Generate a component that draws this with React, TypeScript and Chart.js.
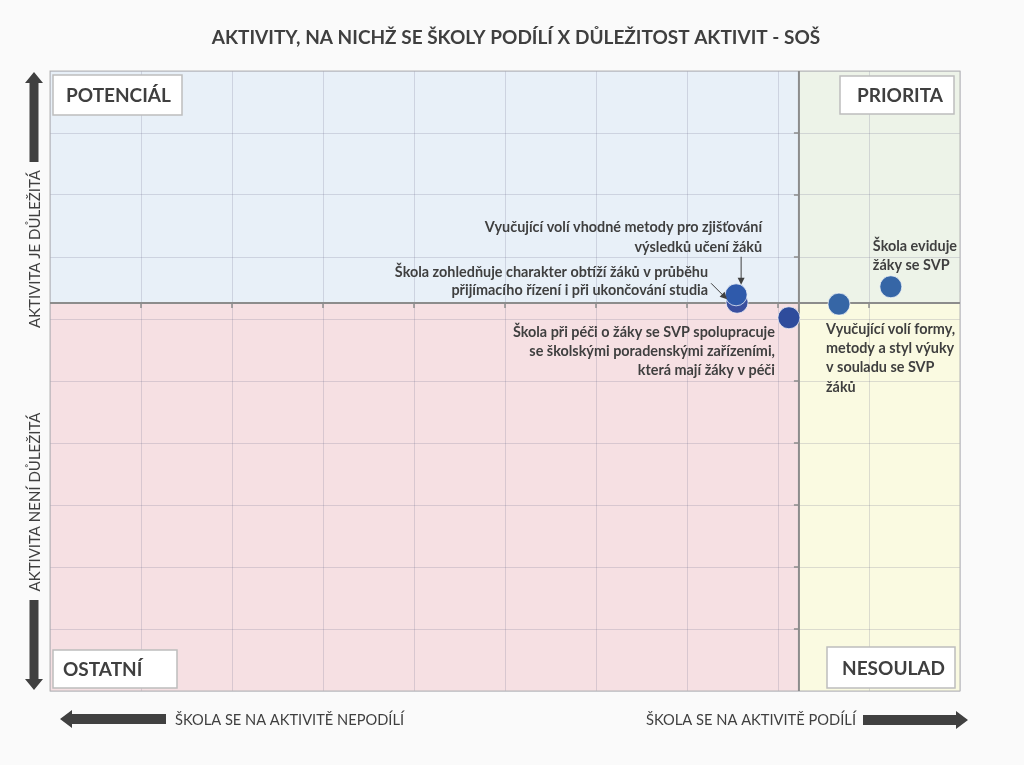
import React, { useEffect, useRef } from "react";
import { Chart, registerables } from "chart.js";

Chart.register(...registerables);

// ---- data ----
const activityLabels: string[][] = [
  ["Vyučující volí vhodné metody pro zjišťování", "výsledků učení žáků"],
  ["Škola zohledňuje charakter obtíží žáků v průběhu", "přijímacího řízení i při ukončování studia"],
  ["Škola při péči o žáky se SVP spolupracuje", "se školskými poradenskými zařízeními,", "která mají žáky v péči"],
  ["Vyučující volí formy,", "metody a styl výuky", "v souladu se SVP", "žáků"],
  ["Škola eviduje", "žáky se SVP"],
];
const schoolShare = [75.4, 75.5, 81.2, 86.7, 92.4];
const importance = [63.9, 62.7, 60.2, 62.4, 65.2];
const xCross = 82.3;
const yCross = 62.6;
const xMin = 0;
const xMax = 100;
const yMin = 0;
const yMax = 100;
const gridStep = 10;

const titleText = "AKTIVITY, NA NICHŽ SE ŠKOLY PODÍLÍ X DŮLEŽITOST AKTIVIT - SOŠ";
const quadrantLabels = ["POTENCIÁL", "PRIORITA", "OSTATNÍ", "NESOULAD"];
const xSideLabels = ["ŠKOLA SE NA AKTIVITĚ NEPODÍLÍ", "ŠKOLA SE NA AKTIVITĚ PODÍLÍ"];
const ySideLabels = ["AKTIVITA JE DŮLEŽITÁ", "AKTIVITA NENÍ DŮLEŽITÁ"];

// ---- styles ----
const pointColors = ["#2F5AAB", "#3A4F9F", "#2E4C9C", "#3666A6", "#3666A6"];
const FONT = "Lato, 'Open Sans', sans-serif";
const TEXT = "#3F3F3F";

function thickArrow(ctx: CanvasRenderingContext2D, tx: number, ty: number, fx: number, fy: number, shaft: number, head: number, headLen: number) {
  const ang = Math.atan2(ty - fy, tx - fx);
  const len = Math.hypot(tx - fx, ty - fy);
  ctx.save();
  ctx.translate(fx, fy);
  ctx.rotate(ang);
  ctx.beginPath();
  ctx.moveTo(0, -shaft / 2);
  ctx.lineTo(len - headLen, -shaft / 2);
  ctx.lineTo(len - headLen, -head / 2);
  ctx.lineTo(len, 0);
  ctx.lineTo(len - headLen, head / 2);
  ctx.lineTo(len - headLen, shaft / 2);
  ctx.lineTo(0, shaft / 2);
  ctx.closePath();
  ctx.fillStyle = "#404040";
  ctx.fill();
  ctx.restore();
}

function thinArrow(ctx: CanvasRenderingContext2D, fx: number, fy: number, tx: number, ty: number) {
  const ang = Math.atan2(ty - fy, tx - fx);
  ctx.save();
  ctx.strokeStyle = "#404040";
  ctx.fillStyle = "#404040";
  ctx.lineWidth = 1;
  ctx.beginPath();
  ctx.moveTo(fx, fy);
  ctx.lineTo(tx - 5 * Math.cos(ang), ty - 5 * Math.sin(ang));
  ctx.stroke();
  ctx.translate(tx, ty);
  ctx.rotate(ang);
  ctx.beginPath();
  ctx.moveTo(0, 0);
  ctx.lineTo(-7, -3.5);
  ctx.lineTo(-7, 3.5);
  ctx.closePath();
  ctx.fill();
  ctx.restore();
}

function labelBox(ctx: CanvasRenderingContext2D, x: number, y: number, w: number, h: number, text: string, align: "left" | "right", pad: number) {
  ctx.save();
  ctx.fillStyle = "#FFFFFF";
  ctx.fillRect(x, y, w, h);
  ctx.strokeStyle = "#BDBDBD";
  ctx.lineWidth = 1.5;
  ctx.strokeRect(x, y, w, h);
  ctx.fillStyle = TEXT;
  ctx.font = `bold 19px ${FONT}`;
  ctx.textBaseline = "middle";
  ctx.textAlign = align;
  ctx.fillText(text, align === "left" ? x + pad : x + w - pad, y + h / 2 + 1);
  ctx.restore();
}

const quadrantPlugin = {
  id: "quadrants",
  beforeDraw(chart: any) {
    const { ctx, chartArea: a, scales } = chart;
    const cx = scales.x.getPixelForValue(xCross);
    const cy = scales.y.getPixelForValue(yCross);
    ctx.save();
    ctx.fillStyle = "#FAFAFA";
    ctx.fillRect(0, 0, chart.width, chart.height);
    ctx.fillStyle = "#E8F0F8";
    ctx.fillRect(a.left, a.top, cx - a.left, cy - a.top);
    ctx.fillStyle = "#EDF3E8";
    ctx.fillRect(cx, a.top, a.right - cx, cy - a.top);
    ctx.fillStyle = "#F6E0E3";
    ctx.fillRect(a.left, cy, cx - a.left, a.bottom - cy);
    ctx.fillStyle = "#FAFAE1";
    ctx.fillRect(cx, cy, a.right - cx, a.bottom - cy);
    ctx.restore();
  },
  beforeDatasetsDraw(chart: any) {
    const { ctx, chartArea: a, scales } = chart;
    const cx = scales.x.getPixelForValue(xCross);
    const cy = scales.y.getPixelForValue(yCross);
    ctx.save();
    ctx.strokeStyle = "#B5B5B5";
    ctx.lineWidth = 1;
    ctx.strokeRect(a.left, a.top, a.right - a.left, a.bottom - a.top);
    ctx.strokeStyle = "#8C8C8C";
    ctx.lineWidth = 2;
    ctx.beginPath();
    ctx.moveTo(cx, a.top);
    ctx.lineTo(cx, a.bottom);
    ctx.moveTo(a.left, cy);
    ctx.lineTo(a.right, cy);
    ctx.stroke();
    ctx.lineWidth = 1.5;
    ctx.beginPath();
    for (let v = xMin + gridStep; v < xMax; v += gridStep) {
      const px = scales.x.getPixelForValue(v);
      ctx.moveTo(px, cy);
      ctx.lineTo(px, cy + 5);
    }
    for (let v = yMin + gridStep; v < yMax; v += gridStep) {
      const py = scales.y.getPixelForValue(v);
      ctx.moveTo(cx, py);
      ctx.lineTo(cx - 5, py);
    }
    ctx.stroke();
    ctx.restore();
  },
  afterDraw(chart: any) {
    const { ctx, chartArea: a, scales } = chart;
    ctx.save();
    // title
    ctx.fillStyle = TEXT;
    ctx.font = `bold 19px ${FONT}`;
    ctx.textAlign = "center";
    ctx.textBaseline = "middle";
    ctx.fillText(titleText, 516, 38, 614);

    // quadrant label boxes
    labelBox(ctx, a.left + 3, a.top + 4, 129, 40, quadrantLabels[0], "left", 13);
    labelBox(ctx, a.right - 120, a.top + 5, 114, 38, quadrantLabels[1], "right", 11);
    labelBox(ctx, a.left + 3, a.bottom - 41, 124, 38, quadrantLabels[2], "left", 10);
    labelBox(ctx, a.right - 133, a.bottom - 44, 128, 41, quadrantLabels[3], "right", 10);

    // side arrows
    thickArrow(ctx, 34, a.top + 1, 34, 162, 9, 18, 11);
    thickArrow(ctx, 34, a.bottom - 1, 34, 600, 9, 18, 11);
    thickArrow(ctx, 60, 719, 166, 719, 10, 18, 12);
    thickArrow(ctx, 968, 720, 863, 720, 10, 18, 12);

    ctx.fillStyle = TEXT;
    ctx.font = `15px ${FONT}`;
    ctx.textBaseline = "middle";
    ctx.textAlign = "left";
    ctx.fillText(xSideLabels[0], 175, 720, 229);
    ctx.textAlign = "right";
    ctx.fillText(xSideLabels[1], 856, 720, 210);

    ctx.save();
    ctx.translate(35, 249);
    ctx.rotate(-Math.PI / 2);
    ctx.textAlign = "center";
    ctx.fillText(ySideLabels[0], 0, 0, 158);
    ctx.restore();
    ctx.save();
    ctx.translate(35, 502);
    ctx.rotate(-Math.PI / 2);
    ctx.textAlign = "center";
    ctx.fillText(ySideLabels[1], 0, 0, 181);
    ctx.restore();

    // annotations
    const P = schoolShare.map((v, i) => ({ x: scales.x.getPixelForValue(v), y: scales.y.getPixelForValue(importance[i]) }));
    ctx.font = `bold 14.4px ${FONT}`;
    ctx.fillStyle = TEXT;
    const lines = (i: number, x: number, y0: number, step: number, align: "left" | "right") => {
      ctx.textAlign = align;
      activityLabels[i].forEach((t, k) => ctx.fillText(t, x, y0 + k * step));
    };
    lines(0, P[0].x + 26, P[0].y - 67, 20, "right");
    thinArrow(ctx, P[0].x + 5, P[0].y - 38, P[0].x + 5, P[0].y - 10);
    lines(1, P[1].x - 29, P[1].y - 30, 18.5, "right");
    thinArrow(ctx, P[1].x - 26, P[1].y - 19, P[1].x - 10, P[1].y - 3);
    lines(2, P[2].x - 14, P[2].y + 15, 19, "right");
    lines(3, P[3].x - 13, P[3].y + 25, 19.3, "left");
    lines(4, P[4].x - 18, P[4].y - 40, 18.5, "left");
    ctx.restore();
  },
};

export default function App() {
  const ref = useRef<HTMLCanvasElement | null>(null);
  useEffect(() => {
    if (!ref.current) return;
    const chart = new Chart(ref.current, {
      type: "scatter",
      data: {
        datasets: schoolShare.map((v, i) => ({
          label: activityLabels[i].join(" "),
          data: [{ x: v, y: importance[i] }],
          backgroundColor: pointColors[i],
          borderColor: "rgba(255,255,255,0.7)",
          borderWidth: 1,
          pointRadius: 11,
          pointHoverRadius: 11,
          order: i,
        })),
      },
      options: {
        animation: false,
        responsive: false,
        layout: { padding: { left: 50, right: 64, top: 71, bottom: 74 } },
        plugins: { legend: { display: false }, tooltip: { enabled: false }, title: { display: false } },
        scales: {
          x: {
            type: "linear",
            min: xMin,
            max: xMax,
            ticks: { display: false, stepSize: gridStep },
            border: { display: false },
            grid: { color: "rgba(110,110,140,0.22)", drawTicks: false, lineWidth: 1 },
          },
          y: {
            type: "linear",
            min: yMin,
            max: yMax,
            ticks: { display: false, stepSize: gridStep },
            border: { display: false },
            grid: { color: "rgba(110,110,140,0.22)", drawTicks: false, lineWidth: 1 },
          },
        },
      },
      plugins: [quadrantPlugin],
    });
    return () => chart.destroy();
  }, []);
  return (
    <div style={{ position: "fixed", left: 0, top: 0, width: 1024, height: 765 }}>
      <canvas ref={ref} width={1024} height={765} style={{ display: "block", width: 1024, height: 765 }} />
    </div>
  );
}
